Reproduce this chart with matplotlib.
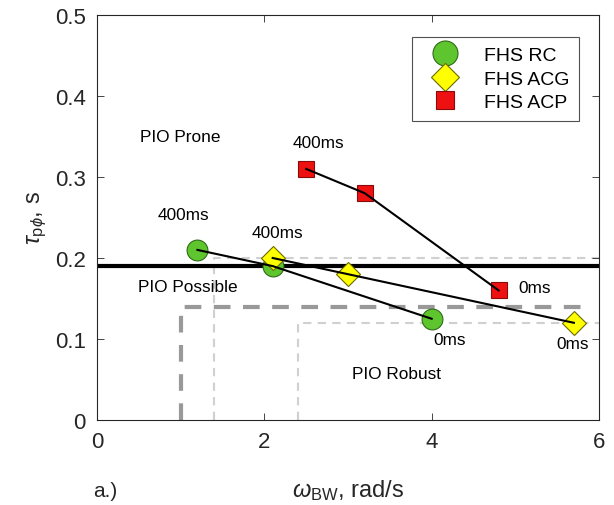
import matplotlib.pyplot as plt

plt.rcParams["font.family"] = ["Liberation Sans", "DejaVu Sans"]
plt.rcParams["mathtext.fontset"] = "custom"
plt.rcParams["mathtext.rm"] = "Liberation Sans"
plt.rcParams["mathtext.it"] = "Liberation Sans:italic"

# data
rc_bw = [1.2, 2.1, 4.0]
rc_tau = [0.21, 0.19, 0.125]
acg_bw = [2.1, 3.0, 5.7]
acg_tau = [0.20, 0.18, 0.12]
acp_bw = [2.5, 3.2, 4.8]
acp_tau = [0.31, 0.28, 0.16]

# boundary lines
possible_limit = 0.19
robust_thick = (1.0, 0.14)
robust_light_a = (1.4, 0.20)
robust_light_b = (2.4, 0.12)

fig = plt.figure(figsize=(6.14, 5.06), dpi=100)
ax = fig.add_axes([97 / 614, 85 / 506, 502 / 614, 405 / 506])

light = "#d0d0d0"
ax.plot([robust_light_a[0], robust_light_a[0], 6], [0, robust_light_a[1], robust_light_a[1]],
        ls=(0, (4, 3)), color=light, lw=1.5, zorder=1)
ax.plot([robust_light_b[0], robust_light_b[0], 6], [0, robust_light_b[1], robust_light_b[1]],
        ls=(0, (4, 3)), color=light, lw=1.5, zorder=1)
ax.plot([robust_thick[0], robust_thick[0], 5.85], [0, robust_thick[1], robust_thick[1]],
        ls=(0, (4, 3)), color="#999999", lw=3, zorder=1)
ax.axhline(possible_limit, color="black", lw=3, zorder=2)

ax.plot(rc_bw, rc_tau, "o", ms=15, mfc="#5ec52e", mec="#2f6a17", mew=0.8,
        ls="none", label="FHS RC", zorder=4)
ax.plot(acg_bw, acg_tau, "D", ms=12, mfc="#ffff00", mec="#6b6b00", mew=0.8,
        ls="none", label="FHS ACG", zorder=4)
ax.plot(acp_bw, acp_tau, "s", ms=11, mfc="#ee1111", mec="#8a0a0a", mew=0.8,
        ls="none", label="FHS ACP", zorder=4)

# connecting lines drawn over the markers, as in the reference
ax.plot(acg_bw, acg_tau, color="black", lw=1.5, zorder=5)
ax.plot(rc_bw, rc_tau, color="black", lw=1.5, zorder=5)
ax.plot(acp_bw, acp_tau, color="black", lw=1.5, zorder=5)

fs = 12.4
ax.text(1.0, 0.35, "PIO Prone", fontsize=fs, ha="center", va="center")
ax.text(1.08, 0.165, "PIO Possible", fontsize=fs, ha="center", va="center")
ax.text(3.58, 0.057, "PIO Robust", fontsize=fs, ha="center", va="center")
ax.text(1.03, 0.254, "400ms", fontsize=fs, ha="center", va="center")
ax.text(2.16, 0.231, "400ms", fontsize=fs, ha="center", va="center")
ax.text(2.65, 0.342, "400ms", fontsize=fs, ha="center", va="center")
ax.text(4.22, 0.099, "0ms", fontsize=fs, ha="center", va="center")
ax.text(5.68, 0.094, "0ms", fontsize=fs, ha="center", va="center")
ax.text(5.23, 0.163, "0ms", fontsize=fs, ha="center", va="center")

ax.set_xlim(0, 6)
ax.set_ylim(0, 0.5)
ax.set_xticks([0, 2, 4, 6])
ax.set_yticks([0, 0.1, 0.2, 0.3, 0.4, 0.5])
ax.set_yticklabels(["0", "0.1", "0.2", "0.3", "0.4", "0.5"])
ax.tick_params(direction="in", top=True, right=True, labelsize=16, colors="#262626",
               length=5, width=0.6, pad=8)
for spine in ax.spines.values():
    spine.set_color("#262626")
    spine.set_linewidth(0.8)

ax.set_xlabel(r"$\omega_{\mathrm{BW}}$, rad/s", fontsize=17, color="#262626", labelpad=18)
ax.set_ylabel(r"$\tau_{\mathrm{p}\phi}$, s", fontsize=17, color="#262626", labelpad=4)
fig.text(105 / 614, 1 - 492 / 506, "a.)", fontsize=15, ha="center", va="center", color="#262626")

leg = ax.legend(loc="upper right", fontsize=14, frameon=True, fancybox=False,
                edgecolor="#262626", borderpad=0.5, handletextpad=0.8, handlelength=2.4,
                bbox_to_anchor=(0.98, 0.97), labelspacing=0.3, markerscale=1.2)
leg.get_frame().set_linewidth(0.8)

fig.savefig("out.png", dpi=100)
